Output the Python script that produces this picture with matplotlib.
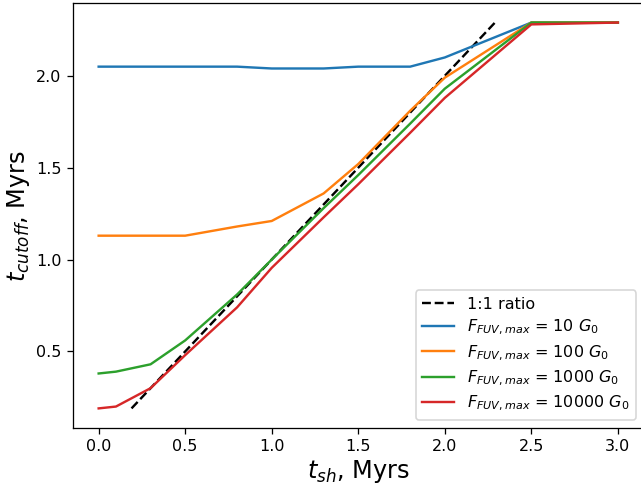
import matplotlib
matplotlib.use("Agg")
import matplotlib.pyplot as plt

# shock times, Myrs
t_sh = [0.0, 0.1, 0.3, 0.5, 0.8, 1.0, 1.3, 1.5, 1.8, 2.0, 2.5, 3.0]

# cutoff times for each max FUV flux
cut_10 = [2.05, 2.05, 2.05, 2.05, 2.05, 2.04, 2.04, 2.05, 2.05, 2.10, 2.29, 2.29]
cut_100 = [1.13, 1.13, 1.13, 1.13, 1.18, 1.21, 1.36, 1.52, 1.81, 1.99, 2.29, 2.29]
cut_1000 = [0.38, 0.39, 0.43, 0.56, 0.81, 1.00, 1.28, 1.46, 1.74, 1.93, 2.29, 2.29]
cut_10000 = [0.19, 0.20, 0.30, 0.48, 0.74, 0.955, 1.23, 1.41, 1.69, 1.88, 2.28, 2.29]

flux_labels = ["10", "100", "1000", "10000"]
ratio = [0.19, 2.29]

# rendered at a slightly higher dpi so fonts/lines match the original scale
DPI = 115
fig = plt.figure(figsize=(641 / DPI, 487 / DPI), dpi=DPI)
ax = fig.add_axes([0.1134, 0.1218, 0.891, 0.8715])

ax.plot(ratio, ratio, "k--", label="1:1 ratio")
for ys, lab in zip([cut_10, cut_100, cut_1000, cut_10000], flux_labels):
    ax.plot(t_sh, ys, label=r"$F_{FUV,max}$ = " + lab + r" $G_0$")

ax.set_xlim(-0.15, 3.15)
ax.set_ylim(0.085, 2.395)
ax.set_xlabel(r"$t_{sh}$, Myrs", fontsize=15, labelpad=2.5)
ax.set_ylabel(r"$t_{cutoff}$, Myrs", fontsize=15, labelpad=2.5)
ax.legend(loc="lower right", labelspacing=0.38)

fig.savefig("out.png", dpi=DPI)
